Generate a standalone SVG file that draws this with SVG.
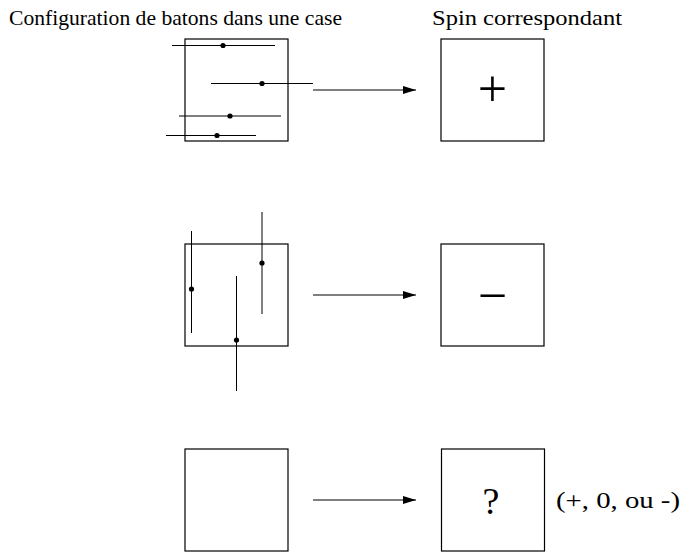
<svg xmlns="http://www.w3.org/2000/svg" width="684" height="554" viewBox="0 0 684 554">
<style>
.box{fill:none;stroke:#000;stroke-width:1.2}
.stick{stroke:#000;stroke-width:1}
.dot{fill:#000}
.conn{stroke:#000;stroke-width:1.2;fill:none}
.t{font-family:"Liberation Serif","DejaVu Serif",serif;fill:#000}
.sym{font-family:"Liberation Serif","DejaVu Serif",serif;fill:#000;text-anchor:middle;font-size:52px}
</style>
<defs>
<marker id="ah" viewBox="0 0 13 8" refX="13" refY="4" markerWidth="13" markerHeight="8" markerUnits="userSpaceOnUse" orient="auto">
<path d="M0,0 L13,4 L0,8 Z" fill="#000"/>
</marker>
</defs>
<g id="headers">
<text class="t" x="9" y="24.5" font-size="22" textLength="333" lengthAdjust="spacingAndGlyphs">Configuration de batons dans une case</text>
<text class="t" x="432" y="24.5" font-size="22" textLength="190" lengthAdjust="spacingAndGlyphs">Spin correspondant</text>
</g>
<g id="config1">
<rect class="box" x="185" y="39" width="103" height="102"/>
<line class="stick" x1="172" y1="45.5" x2="275" y2="45.5"/><circle class="dot" cx="223" cy="45.5" r="2.6"/>
<line class="stick" x1="211" y1="83.5" x2="313" y2="83.5"/><circle class="dot" cx="262" cy="83.5" r="2.6"/>
<line class="stick" x1="179" y1="116" x2="281" y2="116"/><circle class="dot" cx="230" cy="116" r="2.6"/>
<line class="stick" x1="166" y1="135.5" x2="256" y2="135.5"/><circle class="dot" cx="217" cy="135.5" r="2.6"/>
</g>
<g id="spin1">
<rect class="box" x="441" y="39" width="103" height="102"/>
<text class="sym" x="492.5" y="106.4">+</text>
</g>
<g id="config2">
<rect class="box" x="185" y="244" width="103" height="102"/>
<line class="stick" x1="191.5" y1="231" x2="191.5" y2="333"/><circle class="dot" cx="191.5" cy="289" r="2.6"/>
<line class="stick" x1="262" y1="212" x2="262" y2="314"/><circle class="dot" cx="262" cy="263" r="2.6"/>
<line class="stick" x1="236.5" y1="276" x2="236.5" y2="391"/><circle class="dot" cx="236.5" cy="340" r="2.6"/>
</g>
<g id="spin2">
<rect class="box" x="441" y="244" width="103" height="102"/>
<text class="sym" x="492.5" y="313">−</text>
</g>
<g id="config3">
<rect class="box" x="185" y="449" width="103" height="102"/>
</g>
<g id="spin3">
<rect class="box" x="441.5" y="449" width="103" height="102"/>
<text class="t" x="491" y="514" font-size="38" text-anchor="middle">?</text>
<text class="t" x="556" y="508" font-size="24" textLength="124" lengthAdjust="spacingAndGlyphs">(+, 0, ou -)</text>
</g>
<g id="connectors">
<line class="conn" x1="313" y1="90" x2="416" y2="90" marker-end="url(#ah)"/>
<line class="conn" x1="313" y1="295" x2="416" y2="295" marker-end="url(#ah)"/>
<line class="conn" x1="313" y1="500" x2="416" y2="500" marker-end="url(#ah)"/>
</g>
</svg>
